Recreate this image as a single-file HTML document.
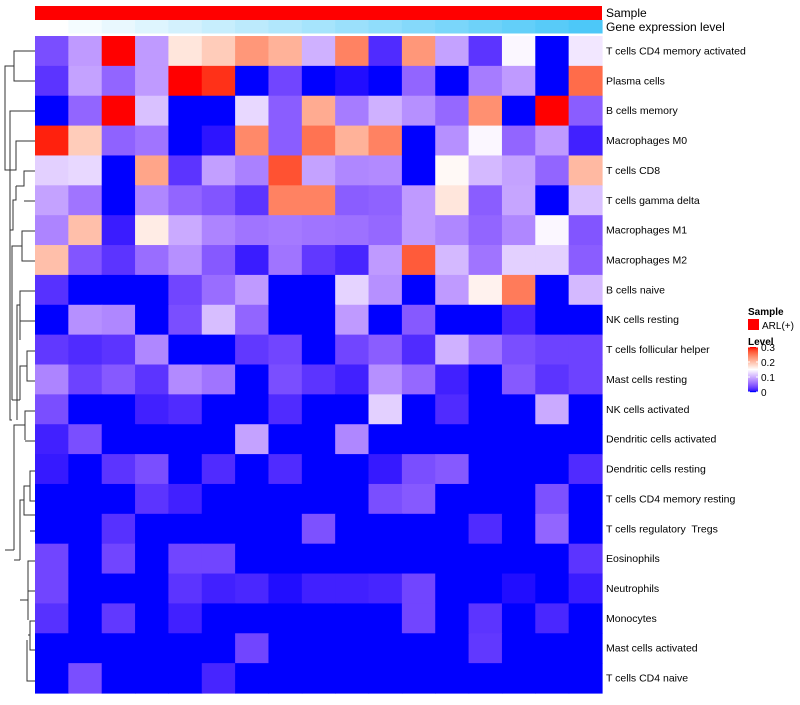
<!DOCTYPE html>
<html><head><meta charset="utf-8"><style>
body{margin:0;background:#fff;width:800px;height:700px;overflow:hidden;font-family:"Liberation Sans",sans-serif}
svg text{font-family:"Liberation Sans",sans-serif;white-space:pre}
</style></head><body>
<svg id="chart" width="800" height="700" xmlns="http://www.w3.org/2000/svg">
<g id="dendro" stroke="#333" stroke-width="1" fill="none">
<path d="M35,51H14V81H35 M14,66H5V170H10 M35,111H10V230 M10,170H16V141H35 M16,186H24V171H35 M24,201H35 M24,186V186 M16,200H13V230H10 M13,200H16V186 M35,231H22V261H35 M22,246H12V400 M35,291H20V340 M35,321H20 M20,305H17V420 M35,351H27V381H35 M27,366H20V400 M12,400H20 M12,420H10V230 M35,411H25V440 M35,441H25 M25,425H14V550 M35,471H30V501H35 M30,486H24V515H35 M24,500H20V560 M35,531H30 M35,561H28V620 M35,591H28 M35,621H30V650H35 M30,635H28 M35,681H27V640 M28,600H20 M20,560H14 M14,550H5"/>
</g>
</svg>
<script>
const rows=["T cells CD4 memory activated","Plasma cells","B cells memory","Macrophages M0","T cells CD8","T cells gamma delta","Macrophages M1","Macrophages M2","B cells naive","NK cells resting","T cells follicular helper","Mast cells resting","NK cells activated","Dendritic cells activated","Dendritic cells resting","T cells CD4 memory resting","T cells regulatory  Tregs","Eosinophils","Neutrophils","Monocytes","Mast cells activated","T cells CD4 naive"];
const geneLevel=[1,2,3,4,5,6,7,8,9,10,11,12,13,14,15,16,17];
const r1=[0.035,0.085,0.3,0.085,0.17,0.19,0.23,0.21,0.1,0.245,0.015,0.23,0.09,0.02,0.145,0,0.135];
const r2=[0.02,0.09,0.05,0.085,0.3,0.29,0,0.03,0,0.003,0,0.05,0,0.065,0.085,0,0.26];
const r3=[0,0.05,0.3,0.11,0,0,0.125,0.045,0.215,0.065,0.1,0.078,0.052,0.235,0,0.3,0.045];
const r4=[0.295,0.19,0.048,0.06,0,0.005,0.24,0.045,0.255,0.21,0.245,0,0.078,0.145,0.05,0.085,0.01];
const r5=[0.12,0.125,0,0.22,0.02,0.088,0.068,0.275,0.09,0.072,0.074,0,0.155,0.105,0.09,0.05,0.205];
const r6=[0.09,0.06,0,0.072,0.05,0.04,0.02,0.245,0.245,0.045,0.048,0.085,0.17,0.045,0.092,0,0.11];
const r7=[0.07,0.2,0.008,0.165,0.095,0.07,0.06,0.064,0.06,0.058,0.052,0.085,0.072,0.05,0.072,0.145,0.04];
const r8=[0.2,0.04,0.02,0.055,0.078,0.042,0.008,0.06,0.022,0.012,0.085,0.27,0.105,0.06,0.12,0.12,0.045];
const r9=[0.018,0,0,0,0.03,0.055,0.085,0,0,0.122,0.078,0,0.085,0.16,0.25,0,0.105];
const r10=[0,0.078,0.072,0,0.035,0.108,0.05,0,0,0.085,0,0.042,0,0,0.012,0,0];
const r11=[0.022,0.015,0.02,0.072,0,0,0.022,0.03,0,0.03,0.045,0.015,0.1,0.06,0.035,0.028,0.028];
const r12=[0.07,0.028,0.042,0.02,0.074,0.06,0,0.035,0.02,0.01,0.078,0.052,0.01,0,0.042,0.02,0.028];
const r13=[0.035,0,0,0.01,0.015,0,0,0.015,0,0,0.12,0,0.015,0,0,0.095,0];
const r14=[0.01,0.035,0,0,0,0,0.09,0,0,0.072,0,0,0,0,0,0,0];
const r15=[0.007,0,0.02,0.035,0,0.015,0,0.015,0,0,0.007,0.035,0.042,0,0,0,0.015];
const r16=[0,0,0,0.02,0.01,0,0,0,0,0,0.035,0.042,0,0,0,0.037,0];
const r17=[0,0,0.018,0,0,0,0,0,0.037,0,0,0,0,0.015,0,0.05,0];
const r18=[0.03,0,0.03,0,0.03,0.03,0,0,0,0,0,0,0,0,0,0,0.02];
const r19=[0.03,0,0,0,0.02,0.01,0.013,0.003,0.01,0.01,0.012,0.03,0,0,0.003,0,0.008];
const r20=[0.018,0,0.022,0,0.01,0,0,0,0,0,0,0.03,0,0.02,0,0.013,0];
const r21=[0,0,0,0,0,0,0.03,0,0,0,0,0,0,0.022,0,0,0];
const r22=[0,0.035,0,0,0,0.012,0,0,0,0,0,0,0,0,0,0,0];
const values=[r1,r2,r3,r4,r5,r6,r7,r8,r9,r10,r11,r12,r13,r14,r15,r16,r17,r18,r19,r20,r21,r22];
const legendTicks=[0,0.1,0.2,0.3];

const X0=35,X1=602,Y0=36,Y1=693;
const nC=17,nR=rows.length,cw=(X1-X0)/nC,rh=(Y1-Y0)/nR;
const xPos=i=>X0+i*cw, yPos=j=>Y0+j*rh;
function toLin(c){c/=255;return c<=0.04045?c/12.92:Math.pow((c+0.055)/1.055,2.4)}
function toS(c){c=c<=0.0031308?12.92*c:1.055*Math.pow(c,1/2.4)-0.055;return Math.max(0,Math.min(255,Math.round(c*255)))}
function lab(r,g,b){r=toLin(r);g=toLin(g);b=toLin(b);
let x=(0.4124*r+0.3576*g+0.1805*b)/0.95047,y=0.2126*r+0.7152*g+0.0722*b,z=(0.0193*r+0.1192*g+0.9505*b)/1.08883;
const f=t=>t>0.008856?Math.cbrt(t):7.787*t+16/116;x=f(x);y=f(y);z=f(z);return[116*y-16,500*(x-y),200*(y-z)]}
function rgb(L,a,bb){let y=(L+16)/116,x=a/500+y,z=y-bb/200;const fi=t=>t*t*t>0.008856?t*t*t:(t-16/116)/7.787;
x=fi(x)*0.95047;y=fi(y);z=fi(z)*1.08883;
const r=3.2406*x-1.5372*y-0.4986*z,g=-0.9689*x+1.8758*y+0.0415*z,b=0.0557*x-0.2040*y+1.0570*z;return`rgb(${toS(r)},${toS(g)},${toS(b)})`}
const B=lab(0,0,255),W=lab(255,255,255),R=lab(255,0,0);
function col(v){v=Math.max(0,Math.min(0.3,v));let a,b,t;if(v<=0.15){a=B;b=W;t=v/0.15}else{a=W;b=R;t=(v-0.15)/0.15}
return rgb(a[0]+(b[0]-a[0])*t,a[1]+(b[1]-a[1])*t,a[2]+(b[2]-a[2])*t)}
const NS="http://www.w3.org/2000/svg",svg=document.getElementById('chart');
function el(t,a,p){const e=document.createElementNS(NS,t);for(const k in a)e.setAttribute(k,a[k]);(p||svg).appendChild(e);return e}
const g=el('g',{});


values.forEach((row,j)=>row.forEach((v,i)=>{
const c=el('rect',{x:xPos(i),y:yPos(j),width:cw+0.6,height:rh+0.6,fill:col(v)},g);


}));
rows.forEach((n,j)=>{const t=el('text',{x:606,y:yPos(j)+rh/2+3.5,'font-size':'10.5',fill:'#000'});t.textContent=n;
t.setAttribute('xml:space','preserve');

});
const s=el('rect',{x:X0,y:6,width:X1-X0,height:14,fill:'#ff0000'});


const gmin=Math.min(...geneLevel),gmax=Math.max(...geneLevel);
geneLevel.forEach((v,i)=>{const t=(v-gmin)/(gmax-gmin);
const c=el('rect',{x:xPos(i),y:20,width:cw+0.6,height:13.5,fill:`rgb(${Math.round(255-t*178)},${Math.round(255-t*55)},${Math.round(255-t*7)})`});

});
let t=el('text',{x:606,y:17,'font-size':'12'});t.textContent='Sample';


t=el('text',{x:606,y:31,'font-size':'12'});t.textContent='Gene expression level';


t=el('text',{x:748,y:315,'font-size':'10','font-weight':'bold'});t.textContent='Sample';


const sq=el('rect',{x:748,y:319,width:11,height:11,fill:'#ff0000'});


t=el('text',{x:762,y:329,'font-size':'10'});t.textContent='ARL(+)';


t=el('text',{x:748,y:345,'font-size':'10','font-weight':'bold'});t.textContent='Level';


const LY0=347,LY1=392,lg=el('g',{});


for(let k=0;k<45;k++){const v=0.3*(1-k/44);el('rect',{x:748,y:LY0+k,width:10,height:1.2,fill:col(v)},lg);}
legendTicks.forEach(v=>{const y=LY1-(v/0.3)*(LY1-LY0);
el('line',{x1:748,x2:750,y1:y,y2:y,stroke:'#fff'},lg);el('line',{x1:756,x2:758,y1:y,y2:y,stroke:'#fff'},lg);
const tx=el('text',{x:761,y:y+4,'font-size':'10'});tx.textContent=v===0?'0':v.toFixed(1);

});
</script>
</body></html>
